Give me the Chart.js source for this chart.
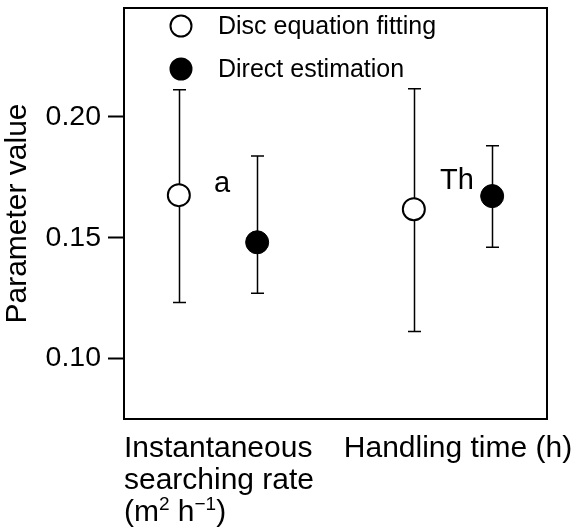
<!DOCTYPE html>
<html>
<head>
<meta charset="utf-8">
<script src="https://cdn.jsdelivr.net/npm/chart.js@4.4.1/dist/chart.umd.min.js"></script>
<style>
    html, body { margin: 0; padding: 0; background: #fff; }
    #wrap { width: 572px; height: 532px; }
</style>
</head>
<body>
<div id="wrap"><canvas id="paramChart" width="572" height="532"></canvas></div>
<script>
// categories (x axis groups) and parameter tags
var categories = [['Instantaneous', 'searching rate', '(m\u00b2 h\u207b\u00b9)'], ['Handling time (h)']];
var paramNames = ['a', 'Th'];
var paramLabelY = [0.169, 0.170];

// Disc equation fitting: estimate with lower / upper bound
var discMean = [0.1676, 0.1618];
var discLow = [0.1232, 0.1112];
var discHigh = [0.2112, 0.2116];

// Direct estimation
var directMean = [0.1481, 0.1672];
var directLow = [0.1270, 0.1460];
var directHigh = [0.1838, 0.1880];

var yTicks = [0.10, 0.15, 0.20];

var FONT = '"Liberation Sans", Arial, sans-serif';
var seriesShift = 1 / 6;

function toPoints(values, shift) {
    var pts = [];
    for (var i = 0; i < values.length; i++) {
        pts.push({ x: i + 1 + shift, y: values[i] });
    }
    return pts;
}

// draw a line of text where superscript chars are drawn small and raised
var supMap = { '\u00b2': '2', '\u00b9': '1', '\u207b': '\u2212' };
function drawRich(ctx, text, x, y, size) {
    var cx = x;
    for (var i = 0; i < text.length; i++) {
        var ch = text[i];
        if (supMap[ch]) {
            ctx.font = Math.round(size * 0.62) + 'px ' + FONT;
            ctx.fillText(supMap[ch], cx, y - size * 0.36);
            cx += ctx.measureText(supMap[ch]).width;
        } else {
            ctx.font = size + 'px ' + FONT;
            ctx.fillText(ch, cx, y);
            cx += ctx.measureText(ch).width;
        }
    }
    return cx - x;
}
function richWidth(ctx, text, size) {
    var w = 0;
    for (var i = 0; i < text.length; i++) {
        var ch = text[i];
        if (supMap[ch]) {
            ctx.font = Math.round(size * 0.62) + 'px ' + FONT;
            w += ctx.measureText(supMap[ch]).width;
        } else {
            ctx.font = size + 'px ' + FONT;
            w += ctx.measureText(ch).width;
        }
    }
    return w;
}

var errorBars = {
    id: 'errorBars',
    beforeDatasetsDraw: function (chart) {
        var ctx = chart.ctx;
        var xs = chart.scales.x, ys = chart.scales.y;
        var sets = [[discLow, discHigh, -seriesShift], [directLow, directHigh, seriesShift]];
        ctx.save();
        ctx.strokeStyle = '#000';
        ctx.lineWidth = 1.5;
        sets.forEach(function (s) {
            for (var i = 0; i < s[0].length; i++) {
                var px = Math.round(xs.getPixelForValue(i + 1 + s[2])) + 0.5;
                var lo = ys.getPixelForValue(s[0][i]);
                var hi = ys.getPixelForValue(s[1][i]);
                ctx.beginPath();
                ctx.moveTo(px, lo); ctx.lineTo(px, hi);
                ctx.moveTo(px - 6.5, lo); ctx.lineTo(px + 6.5, lo);
                ctx.moveTo(px - 6.5, hi); ctx.lineTo(px + 6.5, hi);
                ctx.stroke();
            }
        });
        ctx.restore();
    }
};

var decorations = {
    id: 'decorations',
    afterDraw: function (chart) {
        var ctx = chart.ctx;
        var area = chart.chartArea;
        var xs = chart.scales.x, ys = chart.scales.y;
        ctx.save();

        // frame
        ctx.strokeStyle = '#000';
        ctx.lineWidth = 2;
        ctx.strokeRect(area.left, area.top, area.right - area.left, area.bottom - area.top);

        // legend inside the plot
        var rows = [area.top + 18, area.top + 61];
        chart.data.datasets.forEach(function (ds, i) {
            ctx.beginPath();
            ctx.arc(area.left + 57, rows[i], 10.5, 0, Math.PI * 2);
            ctx.fillStyle = ds.backgroundColor;
            ctx.fill();
            ctx.lineWidth = 2;
            ctx.strokeStyle = '#000';
            ctx.stroke();
            ctx.fillStyle = '#000';
            ctx.font = '25px ' + FONT;
            ctx.textAlign = 'left';
            ctx.textBaseline = 'middle';
            ctx.fillText(ds.label, area.left + 94, rows[i] + 1);
        });

        // parameter tags
        ctx.font = '29px ' + FONT;
        ctx.textAlign = 'center';
        ctx.textBaseline = 'alphabetic';
        for (var i = 0; i < paramNames.length; i++) {
            ctx.fillText(paramNames[i], xs.getPixelForValue(i + 1) + 4, ys.getPixelForValue(paramLabelY[i]));
        }

        // category labels under the axis, left aligned block
        ctx.textAlign = 'left';
        var size = 30;
        for (var c = 0; c < categories.length; c++) {
            var lines = categories[c];
            var w = 0;
            lines.forEach(function (l) { w = Math.max(w, richWidth(ctx, l, size)); });
            var left = xs.getPixelForValue(c + 1) - w / 2 + (c === 0 ? 1 : 5);
            for (var k = 0; k < lines.length; k++) {
                drawRich(ctx, lines[k], left, area.bottom + 38 + k * 32, size);
            }
        }
        ctx.restore();
    }
};

var ctx = document.getElementById('paramChart').getContext('2d');
new Chart(ctx, {
    type: 'scatter',
    data: {
        datasets: [
            {
                label: 'Disc equation fitting',
                data: toPoints(discMean, -seriesShift),
                backgroundColor: '#fff',
                borderColor: '#000',
                borderWidth: 2,
                pointRadius: 11,
                pointHoverRadius: 11
            },
            {
                label: 'Direct estimation',
                data: toPoints(directMean, seriesShift),
                backgroundColor: '#000',
                borderColor: '#000',
                borderWidth: 1,
                pointRadius: 11.5,
                pointHoverRadius: 11.5
            }
        ]
    },
    options: {
        responsive: false,
        animation: false,
        layout: { autoPadding: false, padding: { top: 8, right: 25, left: 0, bottom: 0 } },
        plugins: {
            legend: { display: false },
            tooltip: { enabled: false }
        },
        scales: {
            x: {
                type: 'linear',
                min: 0.6,
                max: 2.4,
                grid: { display: false },
                border: { display: true, color: '#000', width: 2 },
                ticks: { display: false },
                afterFit: function (scale) {
                    scale.height = 113;
                    scale.paddingLeft = 0;
                    scale.paddingRight = 0;
                }
            },
            y: {
                min: 0.075,
                max: 0.245,
                afterBuildTicks: function (scale) {
                    scale.ticks = yTicks.map(function (v) { return { value: v }; });
                },
                grid: {
                    drawOnChartArea: false,
                    drawTicks: true,
                    tickLength: 16,
                    tickWidth: 2,
                    tickColor: '#000'
                },
                border: { display: true, color: '#000', width: 2 },
                ticks: {
                    color: '#000',
                    padding: 7,
                    font: { family: FONT, size: 28.5 },
                    callback: function (v) { return v.toFixed(2); }
                },
                title: {
                    display: true,
                    text: 'Parameter value',
                    color: '#000',
                    font: { family: FONT, size: 30 },
                    padding: { top: 0, bottom: 0 }
                },
                afterFit: function (scale) {
                    scale.width = 124;
                    scale.paddingTop = 0;
                    scale.paddingBottom = 0;
                }
            }
        }
    },
    plugins: [errorBars, decorations]
});
</script>
</body>
</html>
